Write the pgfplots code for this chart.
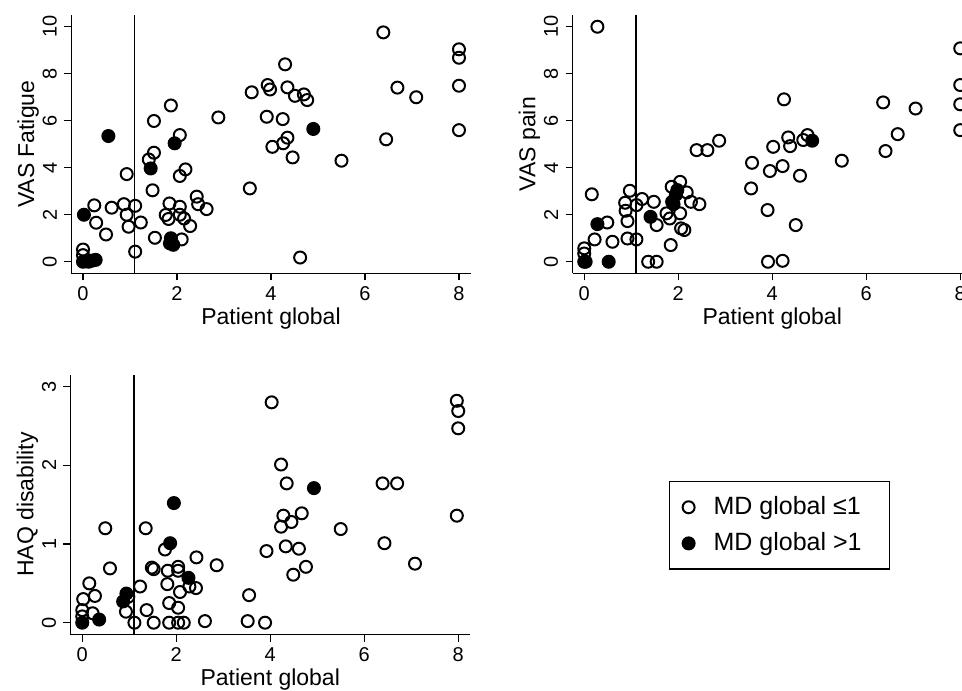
\documentclass[border=0pt]{standalone}
\usepackage{fontspec}
\setmainfont{Liberation Sans}
\usepackage{pgfplots}
\pgfplotsset{compat=1.18}

\pgfplotsset{
  panel/.style={
    scale only axis, width=199.75pt,
    axis lines*=left,
    axis line style={line width=0.7pt},
    tick align=outside, major tick length=3.5pt,
    tick style={line width=0.7pt, black},
    xmin=-0.25, xmax=8.25, xtick={0,2,4,6,8},
    /pgf/number format/assume math mode=true,
    tick label style={font=\fontsize{10}{11}\selectfont},
    xticklabel style={inner sep=0pt, yshift=-3pt},
    yticklabel style={xshift=-3.5pt, rotate=90, anchor=south, inner sep=0pt},
    label style={font=\fontsize{11.5}{13}\selectfont},
    xlabel={Patient global},
    xlabel style={at={(rel axis cs:0.5,-0.13)}, anchor=north, inner sep=0pt},
    ylabel style={at={(rel axis cs:-0.08,0.5)}, anchor=south, inner sep=0pt},
    clip=false,
  },
  open/.style={only marks, mark=o, mark size=3pt, line width=1pt, black},
  full/.style={only marks, mark=*, mark size=3pt, line width=1pt, black, fill=black},
}

\begin{document}
\begin{tikzpicture}
\path[use as bounding box] (0pt,0pt) rectangle (481pt,345pt);
\clip (0pt,0pt) rectangle (481pt,345pt);

% VAS fatigue
\begin{axis}[panel, at={(35.625pt,208.25pt)}, anchor=south west,
  height=129.25pt, ymin=-0.5, ymax=10.5, ytick={0,2,4,6,8,10},
  ylabel={VAS Fatigue}]
\addplot[forget plot, line width=0.6pt] coordinates {(1.1,-0.5) (1.1,10.5)};
\addplot[open] coordinates {
(0,0.52) (0,0.28) (0.2,0.05) (0.24,2.4) (0.28,1.66) (0.49,1.16) (0.61,2.3)
(0.87,2.45) (0.93,3.73) (0.93,2.0) (0.97,1.49) (1.11,2.38) (1.11,0.43)
(1.23,1.67) (1.40,4.35) (1.51,4.64) (1.51,5.99) (1.48,3.04) (1.53,1.02)
(1.87,6.65) (1.84,2.48) (1.76,1.99) (1.82,1.82) (2.06,2.34) (2.06,5.39)
(2.06,3.65) (2.18,3.93) (2.06,2.0) (2.15,1.84) (2.1,0.95) (2.28,1.52)
(2.42,2.77) (2.45,2.45) (2.63,2.24) (2.88,6.14) (3.55,3.12) (3.59,7.21)
(3.93,7.52) (3.98,7.33) (3.91,6.17) (4.25,6.07) (4.30,8.40) (4.35,7.42)
(4.51,7.06) (4.70,7.12) (4.77,6.88) (4.03,4.89) (4.26,5.04) (4.35,5.28)
(4.46,4.44) (4.62,0.18) (5.50,4.30) (6.39,9.76) (6.69,7.41) (7.09,7.0)
(6.45,5.21) (8,9.04) (8,8.68) (8,7.49) (8,5.60)
};
\addplot[full] coordinates {
(0,0) (0.12,0) (0.27,0.08) (0.02,2.0) (0.54,5.35) (1.44,3.97) (1.87,1.0)
(1.92,0.72) (1.85,0.78) (1.95,5.04) (4.90,5.65)
};
\end{axis}

% VAS pain
\begin{axis}[panel, at={(286.25pt,208.25pt)}, anchor=south west,
  height=129.25pt, ymin=-0.5, ymax=10.5, ytick={0,2,4,6,8,10},
  ylabel={VAS pain}]
\addplot[forget plot, line width=0.6pt] coordinates {(1.1,-0.5) (1.1,10.5)};
\addplot[open] coordinates {
(0.28,10.0) (0.16,2.87) (0.49,1.67) (0.22,0.95) (0.60,0.85) (0,0.57) (0,0.35)
(0.97,3.02) (0.87,2.51) (0.88,2.17) (0.92,1.73) (0.92,0.99) (1.11,0.95)
(1.11,2.41) (1.23,2.67) (1.36,0) (1.54,0) (1.48,2.55) (1.54,1.56) (1.75,2.06)
(1.82,1.84) (1.84,0.71) (1.86,3.19) (2.04,3.40) (2.18,2.95) (2.04,2.06)
(2.06,1.42) (2.13,1.35) (2.27,2.55) (2.45,2.45) (2.39,4.75) (2.62,4.75)
(2.87,5.15) (3.55,3.12) (3.57,4.21) (3.90,2.20) (3.95,3.86) (4.02,4.89)
(4.22,4.07) (3.91,0) (4.22,0.04) (4.25,6.91) (4.34,5.29) (4.38,4.92)
(4.59,3.66) (4.50,1.56) (4.75,5.39) (4.66,5.18) (5.48,4.30) (6.36,6.78)
(6.67,5.43) (6.41,4.71) (7.05,6.52) (8,9.08) (8,7.52) (8,6.70) (8,5.60)
};
\addplot[full] coordinates {
(0,0) (0.03,0) (0.28,1.60) (0.52,0) (1.41,1.91) (1.87,2.55) (1.95,2.85)
(1.98,3.05) (1.9,2.45) (4.85,5.15)
};
\end{axis}

% HAQ disability
\begin{axis}[panel, at={(35.25pt,27.75pt)}, anchor=south west,
  height=129.85pt, ymin=-0.15, ymax=3.15, ytick={0,1,2,3},
  ylabel={HAQ disability},
  legend style={at={(rel axis cs:1.498,0.591)}, anchor=north west,
    draw=black, line width=0.7pt, font=\fontsize{12.5}{14}\selectfont,
    inner xsep=5pt, inner ysep=5.5pt, row sep=3.5pt},
  legend cell align=left,
  legend image code/.code={\draw[#1] plot coordinates {(0pt,0pt)};
    \path (-4pt,0pt) (10pt,0pt);}]
\addplot[forget plot, line width=0.6pt] coordinates {(1.1,-0.15) (1.1,3.15)};
\addplot[open] coordinates {
(0,0.16) (0.02,0.30) (0,0.08) (0.15,0.5) (0.27,0.34) (0.22,0.12) (0.49,1.20)
(0.59,0.69) (0.93,0.14) (0.98,0.33) (1.11,0) (1.23,0.46) (1.35,1.20)
(1.37,0.16) (1.48,0.70) (1.52,0) (1.52,0.68) (1.76,0.93) (1.82,0.66)
(1.81,0.49) (1.85,0.25) (1.85,0) (2.04,0.66) (2.04,0.71) (2.08,0.39)
(2.04,0.19) (2.04,0) (2.16,0) (2.28,0.46) (2.42,0.44) (2.43,0.83) (2.61,0.02)
(2.86,0.73) (3.55,0.35) (3.52,0.02) (3.89,0) (3.92,0.91) (4.03,2.80)
(4.23,2.01) (4.35,1.77) (4.28,1.36) (4.23,1.22) (4.45,1.28) (4.67,1.39)
(4.33,0.97) (4.61,0.94) (4.49,0.61) (4.76,0.71) (5.50,1.19) (6.39,1.77)
(6.70,1.77) (6.43,1.01) (7.08,0.75) (7.97,2.82) (8.0,2.69) (8.0,2.47)
(7.97,1.36)
};
\addlegendentry{MD global ≤1\hspace{7pt}\mbox{}}
\addplot[full] coordinates {
(0,0) (0.36,0.04) (0.87,0.27) (0.94,0.37) (1.87,1.01) (1.95,1.52) (2.26,0.57)
(4.93,1.71)
};
\addlegendentry{MD global >1\hspace{7pt}\mbox{}}
\end{axis}
\end{tikzpicture}
\end{document}
